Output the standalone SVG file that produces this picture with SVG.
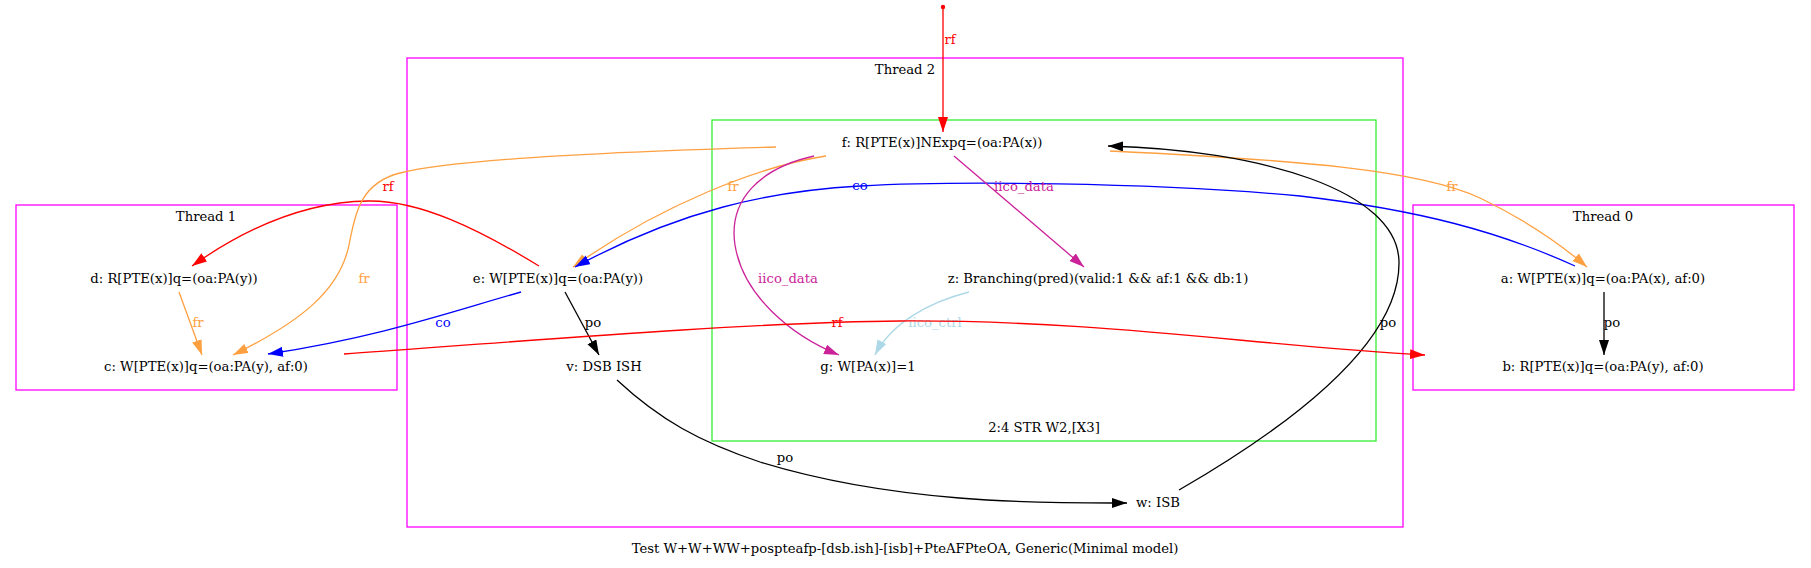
<svg xmlns="http://www.w3.org/2000/svg" width="1811" height="568" viewBox="0 0 1811 568">
<style>
text{font-family:"DejaVu Serif","Liberation Serif",serif;font-size:13.2px;text-anchor:middle;fill:#000}
.cl{fill:none;stroke:#ff00ff;stroke-width:1.3}
.gr{fill:none;stroke:#33ee33;stroke-width:1.3}
.e{fill:none;stroke-width:1.3}
.k{stroke:#000}.r{stroke:#ff0000}.b{stroke:#0000ff}.o{stroke:#ffa040}.m{stroke:#cc2299}.lb{stroke:#add8e6}
.tk{fill:#000}.tr{fill:#ff0000}.tb{fill:#0000ff}.to{fill:#ffa040}.tm{fill:#cc2299}.tlb{fill:#add8e6}
</style>
<defs>
<marker id="ak" markerUnits="userSpaceOnUse" markerWidth="16" markerHeight="12" refX="15" refY="5" orient="auto"><path d="M0,0L15,5L0,10z" fill="#000"/></marker>
<marker id="ar" markerUnits="userSpaceOnUse" markerWidth="16" markerHeight="12" refX="15" refY="5" orient="auto"><path d="M0,0L15,5L0,10z" fill="#ff0000"/></marker>
<marker id="ab" markerUnits="userSpaceOnUse" markerWidth="16" markerHeight="12" refX="15" refY="5" orient="auto"><path d="M0,0L15,5L0,10z" fill="#0000ff"/></marker>
<marker id="ao" markerUnits="userSpaceOnUse" markerWidth="16" markerHeight="12" refX="15" refY="5" orient="auto"><path d="M0,0L15,5L0,10z" fill="#ffa040"/></marker>
<marker id="am" markerUnits="userSpaceOnUse" markerWidth="16" markerHeight="12" refX="15" refY="5" orient="auto"><path d="M0,0L15,5L0,10z" fill="#cc2299"/></marker>
<marker id="alb" markerUnits="userSpaceOnUse" markerWidth="16" markerHeight="12" refX="15" refY="5" orient="auto"><path d="M0,0L15,5L0,10z" fill="#add8e6"/></marker>
</defs>
<rect width="1811" height="568" fill="#fff"/>
<g id="clusters">
<g id="thread1"><rect class="cl" x="16" y="205" width="381" height="185"/><text x="206" y="221">Thread 1</text></g>
<g id="thread2"><rect class="cl" x="407" y="58" width="996" height="469"/><text x="905" y="74">Thread 2</text></g>
<g id="instr"><rect class="gr" x="712" y="120" width="664" height="321"/><text x="1044" y="432">2:4 STR W2,[X3]</text></g>
<g id="thread0"><rect class="cl" x="1413" y="205" width="381" height="185"/><text x="1603" y="221">Thread 0</text></g>
</g>
<g id="connectors">
<circle cx="943" cy="7" r="2.2" fill="#ff0000"/>
<path class="e r" d="M943,7L943,132" marker-end="url(#ar)"/>
<text class="tr" x="950" y="44">rf</text>
<path class="e o" d="M826,156C760,166 660,205 573,267" marker-end="url(#ao)"/>
<text class="to" x="733" y="191">fr</text>
<path class="e b" d="M1575,266C1500,232 1420,210 1300,196C1150,182 950,181 860,186C770,191 680,210 575,267" marker-end="url(#ab)"/>
<text class="tb" x="860" y="190">co</text>
<path class="e o" d="M1110,151C1300,160 1420,170 1480,198C1530,222 1565,248 1587,267" marker-end="url(#ao)"/>
<text class="to" x="1452" y="191">fr</text>
<path class="e k" d="M1179,490C1300,420 1400,340 1399,262C1398,190 1260,150 1108,146" marker-end="url(#ak)"/>
<text class="tk" x="1388" y="327">po</text>
<path class="e m" d="M814,156C760,168 728,200 735,245C743,295 790,335 839,355" marker-end="url(#am)"/>
<text class="tm" x="788" y="283">iico_data</text>
<path class="e m" d="M954,156L1084,267" marker-end="url(#am)"/>
<text class="tm" x="1024" y="191">iico_data</text>
<path class="e lb" d="M969,292C930,302 892,322 875,355" marker-end="url(#alb)"/>
<text class="tlb" x="935" y="327">iico_ctrl</text>
<path class="e k" d="M565,292L599,355" marker-end="url(#ak)"/>
<text class="tk" x="593" y="327">po</text>
<path class="e k" d="M617,380C660,420 700,442 760,462C900,505 1050,503 1127,503" marker-end="url(#ak)"/>
<text class="tk" x="785" y="462">po</text>
<path class="e k" d="M1604,292L1604,355" marker-end="url(#ak)"/>
<text class="tk" x="1612" y="327">po</text>
<path class="e r" d="M539,266C480,230 420,200 368,201C300,202 240,232 192,266" marker-end="url(#ar)"/>
<text class="tr" x="388" y="191">rf</text>
<path class="e o" d="M776,147C600,152 450,160 400,173C360,183 355,215 350,240C342,290 300,322 233,355" marker-end="url(#ao)"/>
<text class="to" x="364" y="283">fr</text>
<path class="e o" d="M179,292L202,355" marker-end="url(#ao)"/>
<text class="to" x="198" y="327">fr</text>
<path class="e b" d="M521,292C450,312 380,337 268,354" marker-end="url(#ab)"/>
<text class="tb" x="443" y="327">co</text>
<path class="e r" d="M344,354C500,343 750,322 900,321C1100,320 1250,345 1425,355" marker-end="url(#ar)"/>
<text class="tr" x="837" y="327">rf</text>
</g>
<g id="a"><text x="1603" y="283">a: W[PTE(x)]q=(oa:PA(x), af:0)</text></g>
<g id="b"><text x="1603" y="371">b: R[PTE(x)]q=(oa:PA(y), af:0)</text></g>
<g id="c"><text x="206" y="371">c: W[PTE(x)]q=(oa:PA(y), af:0)</text></g>
<g id="d"><text x="174" y="283">d: R[PTE(x)]q=(oa:PA(y))</text></g>
<g id="e"><text x="558" y="283">e: W[PTE(x)]q=(oa:PA(y))</text></g>
<g id="f"><text x="942" y="147">f: R[PTE(x)]NExpq=(oa:PA(x))</text></g>
<g id="z"><text x="1098" y="283">z: Branching(pred)(valid:1 &amp;&amp; af:1 &amp;&amp; db:1)</text></g>
<g id="g"><text x="868" y="371">g: W[PA(x)]=1</text></g>
<g id="v"><text x="604" y="371">v: DSB ISH</text></g>
<g id="w"><text x="1158" y="507">w: ISB</text></g>
<text x="905" y="553">Test W+W+WW+pospteafp-[dsb.ish]-[isb]+PteAFPteOA, Generic(Minimal model)</text>
</svg>
